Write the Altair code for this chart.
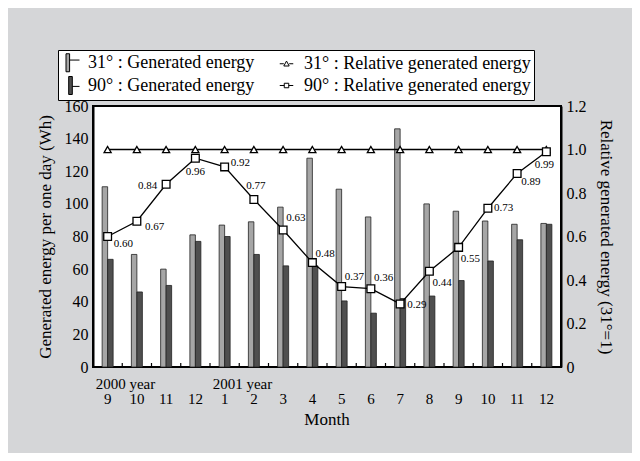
import altair as alt
import pandas as pd

# ---- data ----
months = ["9", "10", "11", "12", "1", "2", "3", "4", "5", "6", "7", "8", "9", "10", "11", "12"]
year_idx = [0, 4]
year_text = ["2000 year", "2001 year"]
gen_31 = [110.5, 69, 60, 81, 87, 89, 98, 128, 109, 92, 146, 100, 95.5, 89.5, 87.5, 88]
gen_90 = [66, 46, 50, 77, 80, 69, 62, 62, 40.5, 33, 42, 43.5, 53, 65, 78, 87.5]
rel_31 = [1.0, 1.0, 1.0, 1.0, 1.0, 1.0, 1.0, 1.0, 1.0, 1.0, 1.0, 1.0, 1.0, 1.0, 1.0, 1.0]
rel_90 = [0.60, 0.67, 0.84, 0.96, 0.92, 0.77, 0.63, 0.48, 0.37, 0.36, 0.29, 0.44, 0.55, 0.73, 0.89, 0.99]
# legend entries, listed column by column
legend_labels = ["31° : Generated energy", "90° : Generated energy",
                 "31° : Relative generated energy", "90° : Relative generated energy"]

# label placement (dx, dy, align) for the 90° relative values
label_place = [(6, 7, "left"), (8, 6, "left"), (-9, 2, "right"), (0, 14, "center"),
               (6, -4, "left"), (2, -14, "center"), (3, -12, "left"), (3, -9, "left"),
               (3, -10, "left"), (3, -11, "left"), (7, 1, "left"), (3, 12, "left"),
               (2, 12, "left"), (6, 0, "left"), (4, 9, "left"), (-2, 13, "center")]

W, H = 468, 261
STEP = W / len(months)
LIGHT, DARK = "#a6a6a6", "#4f4f4f"
SERIF = "Liberation Serif"

df = pd.DataFrame({
    "idx": list(range(len(months))),
    "month": months,
    "gen31": gen_31,
    "gen90": gen_90,
    "rel31": rel_31,
    "rel90": rel_90,
    "lbl": [f"{v:.2f}" for v in rel_90],
})
ydf = pd.DataFrame({"idx": year_idx, "year": year_text})

xscale = alt.Scale(paddingInner=0, paddingOuter=0)
X = alt.X("idx:O", scale=xscale, axis=None)

gen_scale = alt.Scale(domain=[0, 160], nice=False)
rel_scale = alt.Scale(domain=[0, 1.2], nice=False)

left_axis = alt.Axis(title="Generated energy per one day (Wh)", values=list(range(0, 161, 20)),
                     grid=False, ticks=False, labelPadding=5, labelFont=SERIF,
                     labelFontSize=16, labelColor="black", titleFont=SERIF, titleFontSize=17,
                     titleFontWeight="normal", titleColor="black", titlePadding=10,
                     domainColor="black", domainWidth=2)
right_axis = alt.Axis(title="Relative generated energy (31°=1)", orient="right",
                      values=[0, 0.2, 0.4, 0.6, 0.8, 1.0, 1.2],
                      labelExpr="datum.value == 0 ? '0' : format(datum.value, '.1f')",
                      grid=False, ticks=False, labelPadding=5, labelFont=SERIF,
                      labelFontSize=16, labelColor="black", titleFont=SERIF, titleFontSize=17,
                      titleFontWeight="normal", titleColor="black", titlePadding=10,
                      domainColor="black", domainWidth=2)

base = alt.Chart(df)

bar31 = base.mark_bar(width=5.5, xOffset=-2.75, fill=LIGHT, stroke="#222222", strokeWidth=0.8).encode(
    x=X, y=alt.Y("gen31:Q", scale=gen_scale, axis=left_axis),
)
bar90 = base.mark_bar(width=5.5, xOffset=2.75, fill=DARK, stroke="#222222", strokeWidth=0.8).encode(
    x=X, y=alt.Y("gen90:Q", scale=gen_scale, axis=None),
)
xticks = base.transform_filter("datum.idx > 0").mark_rule(
    color="black", strokeWidth=1.2, xOffset=-STEP / 2).encode(
    x=X, y=alt.value(H - 4), y2=alt.value(H),
)
month_text = base.mark_text(align="center", baseline="middle", font=SERIF,
                            fontSize=15, color="black").encode(
    x=X, y=alt.value(H + 32), text="month:N",
)
years = alt.Chart(ydf).mark_text(align="left", baseline="middle", dx=-12, font=SERIF,
                                 fontSize=15, color="black").encode(
    x=X, y=alt.value(H + 17), text="year:N",
)

line31 = base.mark_line(color="black", strokeWidth=1.3).encode(
    x=X, y=alt.Y("rel31:Q", scale=rel_scale, axis=right_axis),
)
pt31 = base.mark_point(shape="triangle-up", filled=True, fill="white", stroke="black",
                       strokeWidth=1.3, size=50, opacity=1).encode(
    x=X, y=alt.Y("rel31:Q", scale=rel_scale, axis=None),
)
line90 = base.mark_line(color="black", strokeWidth=1.3).encode(
    x=X, y=alt.Y("rel90:Q", scale=rel_scale, axis=None),
)
pt90 = base.mark_point(shape="square", filled=True, fill="white", stroke="black",
                       strokeWidth=1.3, size=60, opacity=1).encode(
    x=X, y=alt.Y("rel90:Q", scale=rel_scale, axis=None),
)
labels = []
for i, (dx, dy, al) in enumerate(label_place):
    labels.append(
        base.transform_filter(f"datum.idx == {i}").mark_text(
            dx=dx, dy=dy, align=al, baseline="middle", font=SERIF, fontSize=11, color="black"
        ).encode(
            x=X, y=alt.Y("rel90:Q", scale=rel_scale, axis=None), text="lbl:N",
        )
    )

# legend from a hidden layer
paths = [
    "M-0.5,-1H-0.1V1H-0.5ZM-0.1,-0.3H1",
    "M-0.2,-1H0.2V1H-0.2ZM0.2,0.1H1",
    "M-0.75,0H-0.3M0.3,0H0.75M-0.3,0.25L0,-0.3L0.3,0.25Z",
    "M-0.75,0H-0.25M0.25,0H0.75M-0.25,-0.25H0.25V0.25H-0.25Z",
]
leg = alt.Legend(title=None, orient="none", legendX=-35, legendY=-56, columns=2,
                 fillColor="white", strokeColor="black", padding=3, rowPadding=0,
                 columnPadding=22, symbolSize=324, symbolStrokeWidth=1,
                 symbolOpacity=1, labelFont=SERIF, labelFontSize=18, labelColor="black",
                 labelOffset=8, labelLimit=400)
leg_df = pd.DataFrame({"lg": legend_labels})
legend_layer = alt.Chart(leg_df).mark_point(opacity=0, filled=True, strokeWidth=1).encode(
    x=alt.value(0), y=alt.value(0),
    fill=alt.Fill("lg:N", scale=alt.Scale(domain=legend_labels, range=[LIGHT, DARK, "white", "white"]),
                  legend=leg, sort=legend_labels),
    shape=alt.Shape("lg:N", scale=alt.Scale(domain=legend_labels, range=paths), legend=leg,
                    sort=legend_labels),
    stroke=alt.Stroke("lg:N", scale=alt.Scale(domain=legend_labels,
                                              range=["black", "black", "black", "black"]),
                      legend=leg, sort=legend_labels),
)

chart = alt.layer(bar31, bar90, xticks, month_text, years, line31, line90, pt31, pt90, *labels,
                  legend_layer).resolve_scale(y="independent").properties(
    width=W, height=H,
    title=alt.TitleParams("Month", orient="bottom", anchor="middle", font=SERIF, fontSize=17,
                          fontWeight="normal", color="black", offset=5),
    background="#d5d6d8",
    padding={"left": 85, "top": 98, "right": 71, "bottom": 86},
    autosize=alt.AutoSizeParams(type="none"),
).configure_view(stroke="black", strokeWidth=2, fill="white")

chart.save("out.html", embed_options={"renderer": "svg", "actions": False})
